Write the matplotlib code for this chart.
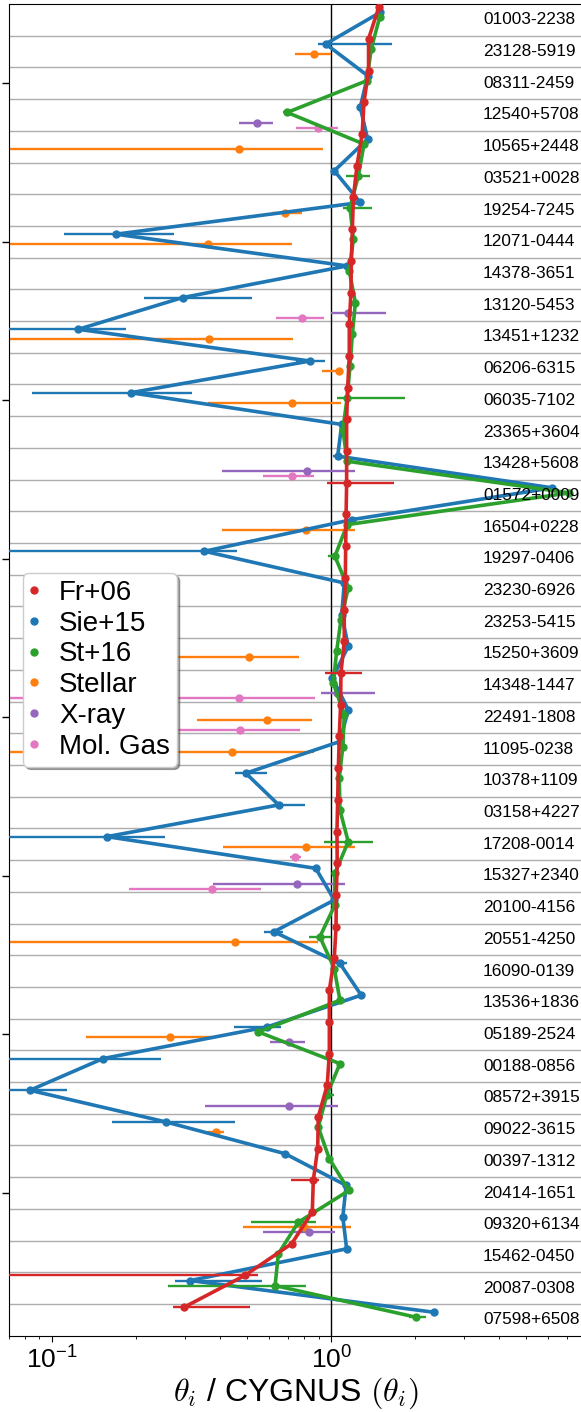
import numpy as np
import matplotlib
matplotlib.use("Agg")
import matplotlib.pyplot as plt
from matplotlib.lines import Line2D

plt.rcParams['font.family'] = ['Liberation Sans', 'DejaVu Sans']
plt.rcParams['mathtext.fontset'] = 'cm'

nan = np.nan

# ULIRG names, listed top to bottom
names = [
    "01003-2238", "23128-5919", "08311-2459", "12540+5708", "10565+2448",
    "03521+0028", "19254-7245", "12071-0444", "14378-3651", "13120-5453",
    "13451+1232", "06206-6315", "06035-7102", "23365+3604", "13428+5608",
    "01572+0009", "16504+0228", "19297-0406", "23230-6926", "23253-5415",
    "15250+3609", "14348-1447", "22491-1808", "11095-0238", "10378+1109",
    "03158+4227", "17208-0014", "15327+2340", "20100-4156", "20551-4250",
    "16090-0139", "13536+1836", "05189-2524", "00188-0856", "08572+3915",
    "09022-3615", "00397-1312", "20414-1651", "09320+6134", "15462-0450",
    "20087-0308", "07598+6508",
]

# ratio to CYGNUS, with lower / upper bounds of each error bar (nan = no bar)
fr06 = [1.48, 1.36, 1.36, 1.31, 1.29, 1.236, 1.20, 1.19, 1.18, 1.176,
        1.16, 1.16, 1.145, 1.135, 1.135, 1.135, 1.13, 1.126, 1.123, 1.113,
        1.113, 1.083, 1.08, 1.068, 1.06, 1.054, 1.048, 1.05, 1.042, 1.04,
        1.025, 0.984, 0.984, 0.984, 0.967, 0.898, 0.894, 0.862, 0.855, 0.721,
        0.49, 0.297]
fr06_lo = [nan] * 15 + [0.963] + [nan] * 5 + [0.95] + [nan] * 15 + [0.72] + [nan, nan] + [0.03, 0.271]
fr06_hi = [nan] * 15 + [1.68] + [nan] * 5 + [1.285] + [nan] * 15 + [0.90] + [nan, nan] + [0.545, 0.511]

sie15 = [1.50, 0.955, 1.35, 1.27, 1.35, 1.025, 1.27, 0.169, 1.14, 0.293,
         0.124, 0.839, 0.191, 1.09, 1.054, 6.2, 1.19, 0.351, 1.113, 1.09,
         1.15, 1.01, 1.15, 1.074, 0.494, 0.648, 0.157, 0.88, 1.025, 0.623,
         1.074, 1.28, 0.59, 0.152, 0.0832, 0.256, 0.683, 1.13, 1.10, 1.135,
         0.312, 2.33]
sie15_lo = [nan, 0.896, nan, nan, nan, nan, nan, 0.110, nan, 0.213,
            0.03, 0.75, 0.0848, nan, 1.017, nan, nan, 0.03, nan, nan,
            1.10, nan, 1.12, nan, 0.452, 0.62, 0.03, nan, nan, 0.575,
            1.01, nan, 0.449, 0.03, 0.03, 0.164, nan, nan, nan, nan,
            0.275, nan]
sie15_hi = [nan, 1.65, nan, nan, nan, nan, nan, 0.273, nan, 0.52,
            0.184, 0.95, 0.317, nan, 1.09, nan, nan, 0.46, nan, nan,
            1.18, nan, 1.18, nan, 0.59, 0.805, 0.254, nan, nan, 0.67,
            1.14, nan, 0.66, 0.245, 0.1127, 0.452, nan, nan, nan, nan,
            0.566, nan]

st16 = [1.49, 1.39, 1.34, 0.695, 1.31, 1.25, 1.167, 1.20, 1.16, 1.22,
        1.19, 1.167, 1.14, 1.10, 1.14, 7.13, 1.14, 1.03, 1.15, 1.083,
        1.045, 1.017, 1.113, 1.10, 1.068, 1.074, 1.15, 1.03, 1.03, 0.91,
        1.025, 1.074, 0.548, 1.074, 0.963, 0.898, 0.984, 1.157, 0.762, 0.646,
        0.629, 2.02]
st16_lo = [nan, nan, nan, 0.67, nan, 1.13, 1.10, nan, nan, nan,
           nan, nan, 1.05, nan, nan, nan, nan, 0.975, nan, nan,
           nan, nan, nan, nan, nan, nan, 0.94, nan, nan, 0.83,
           nan, nan, nan, nan, 0.94, nan, nan, nan, 0.515, nan,
           0.259, 1.90]
st16_hi = [nan, nan, nan, 0.72, nan, 1.38, 1.40, nan, nan, nan,
           nan, nan, 1.84, nan, nan, nan, nan, 1.07, nan, nan,
           nan, nan, nan, nan, nan, nan, 1.41, nan, nan, 0.995,
           nan, nan, nan, nan, 1.02, nan, nan, nan, 0.88, nan,
           0.812, 2.18]

# sparse estimates: row index -> (value, lower, upper)
stellar_rows = [1, 4, 6, 7, 10, 11, 12, 16, 20, 22, 23, 26, 29, 32, 35, 38]
stellar = [0.869, 0.467, 0.682, 0.362, 0.365, 1.066, 0.721, 0.811, 0.508,
           0.59, 0.44, 0.811, 0.45, 0.264, 0.386, 0.80]
stellar_lo = [0.74, 0.03, 0.613, 0.03, 0.03, 0.929, 0.362, 0.406, 0.18,
              0.329, 0.03, 0.408, 0.03, 0.132, 0.358, 0.481]
stellar_hi = [0.995, 0.936, 0.783, 0.725, 0.731, 1.10, 1.08, 1.216, 0.766,
              0.85, 0.87, 1.216, 0.898, 0.377, 0.413, 1.18]

xray_rows = [3, 9, 14, 21, 27, 32, 34, 38]
xray = [0.540, 1.145, 0.816, 1.045, 0.752, 0.704, 0.704, 0.832]
xray_lo = [0.467, 1.0, 0.406, 0.916, 0.376, 0.603, 0.353, 0.571]
xray_hi = [0.62, 1.57, 1.22, 1.43, 1.12, 0.805, 1.054, 1.03]

molgas_rows = [3, 9, 14, 21, 22, 26, 27]
molgas = [0.898, 0.787, 0.721, 0.468, 0.471, 0.741, 0.374]
molgas_lo = [0.746, 0.632, 0.569, 0.03, 0.2, 0.71, 0.189]
molgas_hi = [1.054, 0.94, 0.867, 0.874, 0.773, 0.78, 0.56]

n = len(names)
ypos = np.arange(n, 0, -1)  # top row at n, bottom row at 1

fig = plt.figure(figsize=(5.81, 14.12), dpi=100)
ax = fig.add_axes([9 / 581, 76.3 / 1412, 574.3 / 581, 1331.7 / 1412])
ax.set_xscale('log')
ax.set_xlim(0.07, 8)
ax.set_ylim(0.5, n + 0.5)

for yb in np.arange(1.5, n, 1.0):
    ax.axhline(yb, color='0.68', lw=1.0, zorder=0.5)
ax.axvline(1.0, color='black', lw=1.0, zorder=1.5)


def xerr_of(v, lo, hi):
    v = np.asarray(v, float)
    lo = np.asarray(lo, float)
    hi = np.asarray(hi, float)
    lo = np.where(np.isfinite(lo), lo, v)
    hi = np.where(np.isfinite(hi), hi, v)
    return np.vstack([v - lo, hi - v])


lw_line = 2.6
lw_err = 1.7
ms = 5

# sparse, unconnected estimates
sparse = [
    (stellar_rows, stellar, stellar_lo, stellar_hi, '#ff7f0e', -0.08),
    (xray_rows, xray, xray_lo, xray_hi, '#9467bd', -0.24),
    (molgas_rows, molgas, molgas_lo, molgas_hi, '#e377c2', -0.40),
]
for rows, v, lo, hi, c, off in sparse:
    yy = ypos[np.asarray(rows)] + off
    ax.errorbar(v, yy, xerr=xerr_of(v, lo, hi), fmt='o', color=c, ms=ms,
                elinewidth=lw_err, capsize=0, zorder=2)

# connected per-galaxy series
series = [
    (sie15, sie15_lo, sie15_hi, '#1f77b4', 0.24, 3),
    (st16, st16_lo, st16_hi, '#2ca02c', 0.08, 4),
    (fr06, fr06_lo, fr06_hi, '#d62728', 0.40, 5),
]
for v, lo, hi, c, off, z in series:
    yy = ypos + off
    ax.errorbar(v, yy, xerr=xerr_of(v, lo, hi), fmt='o-', color=c, ms=ms,
                lw=lw_line, elinewidth=lw_err, capsize=0, zorder=z)

for name, y in zip(names, ypos):
    ax.text(3.5, y, name, fontsize=12.4, ha='left', va='center', zorder=6)

ax.set_yticks(np.arange(5, n + 1, 5))
ax.set_yticklabels([])
ax.tick_params(axis='y', length=5, width=1)
ax.tick_params(axis='x', which='major', labelsize=19, length=4.5)
ax.tick_params(axis='x', which='minor', length=2.5)
ax.set_xlabel(r'$\theta_i$ / CYGNUS $(\theta_i)$', fontsize=23, labelpad=1)

labels = ['Fr+06', 'Sie+15', 'St+16', 'Stellar', 'X-ray', 'Mol. Gas']
colors = ['#d62728', '#1f77b4', '#2ca02c', '#ff7f0e', '#9467bd', '#e377c2']
handles = [Line2D([], [], marker='o', ls='', color=c, ms=ms) for c in colors]
leg = ax.legend(handles, labels, loc='center left', fontsize=20,
                shadow=True, fancybox=True, framealpha=1,
                borderpad=0.25, labelspacing=0.17, handlelength=0.3,
                handletextpad=0.75, borderaxespad=0.5)
leg.set_zorder(10)

fig.savefig('out.png', dpi=100)
